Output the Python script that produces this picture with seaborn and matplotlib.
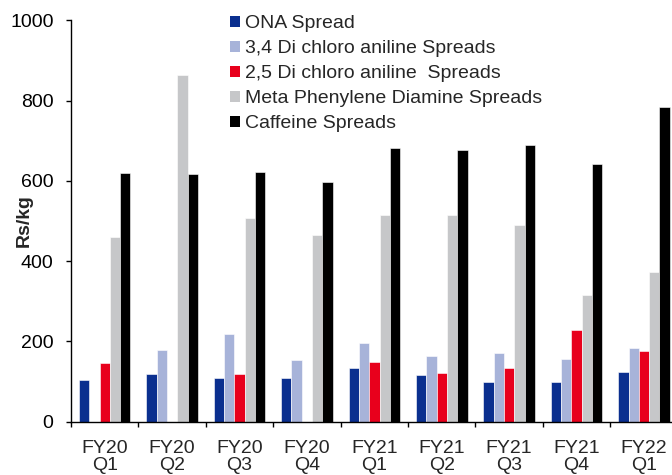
import numpy as np
import pandas as pd
import matplotlib
matplotlib.use("Agg")
import matplotlib.pyplot as plt
from matplotlib.patches import Patch
import seaborn as sns

quarters = ["FY20\nQ1", "FY20\nQ2", "FY20\nQ3", "FY20\nQ4", "FY21\nQ1",
            "FY21\nQ2", "FY21\nQ3", "FY21\nQ4", "FY22\nQ1"]
series_names = ["ONA Spread", "3,4 Di chloro aniline Spreads",
                "2,5 Di chloro aniline  Spreads", "Meta Phenylene Diamine Spreads",
                "Caffeine Spreads"]
ona = [105, 119, 110, 110, 134, 116, 100, 100, 125]
dca34 = [np.nan, 179, 219, 154, 196, 163, 171, 156, 184]
dca25 = [146, np.nan, 120, np.nan, 149, 122, 133, 228, 176]
mpd = [461, 863, 508, 464, 515, 515, 489, 316, 373]
caffeine = [620, 618, 623, 596, 681, 677, 688, 641, 784]
colors = ["#0A2F8F", "#A7B3D9", "#E8001C", "#C6C7C9", "#000000"]

frames = []
for name, vals in zip(series_names, [ona, dca34, dca25, mpd, caffeine]):
    frames.append(pd.DataFrame({"quarter": quarters, "series": name, "value": vals}))
df = pd.concat(frames, ignore_index=True)

sns.set_style("white")
plt.rcParams["font.family"] = ["Liberation Sans", "DejaVu Sans"]

fig = plt.figure(figsize=(6.72, 4.75), dpi=100)
ax = fig.add_axes([71 / 672, 53.3 / 475, 606.7 / 672, 401.5 / 475])

sns.barplot(data=df, x="quarter", y="value", hue="series", order=quarters,
            hue_order=series_names, palette=colors, width=0.765, gap=0,
            saturation=1, errorbar=None, legend=False, ax=ax,
            edgecolor="white", linewidth=0.4)

ax.set_ylim(0, 1000)
ax.set_xlim(-0.5, len(quarters) - 0.5)
ax.set_yticks(range(0, 1001, 200))
ax.tick_params(axis="y", which="major", direction="out", length=3.6, width=1,
               labelsize=14, pad=9, colors="black", left=True)
ax.set_xticks(np.arange(-0.5, len(quarters), 1.0))
ax.set_xticklabels([])
ax.set_xticks(np.arange(len(quarters)), minor=True)
ax.set_xticklabels(quarters, minor=True, fontsize=14, linespacing=1.0)
ax.tick_params(axis="x", which="major", direction="out", length=3.6, width=1,
               bottom=True, colors="black")
ax.tick_params(axis="x", which="minor", length=0, pad=13)

for side in ["top", "right"]:
    ax.spines[side].set_visible(False)
for side in ["left", "bottom"]:
    ax.spines[side].set_color("black")
    ax.spines[side].set_linewidth(1)

ax.set_xlabel("")
ax.set_ylabel("Rs/kg", fontsize=14, fontweight="bold")
ax.yaxis.set_label_coords(-0.0626, 0.5)

handles = [Patch(facecolor=c, edgecolor="none") for c in colors]
fig.legend(handles, series_names, loc="upper left",
           bbox_to_anchor=(230 / 672, 1 - 15.5 / 475), frameon=False,
           fontsize=14, handlelength=0.52, handleheight=0.52,
           handletextpad=0.26, labelspacing=0.41, borderpad=0,
           borderaxespad=0)

fig.savefig("out.png", dpi=100)
